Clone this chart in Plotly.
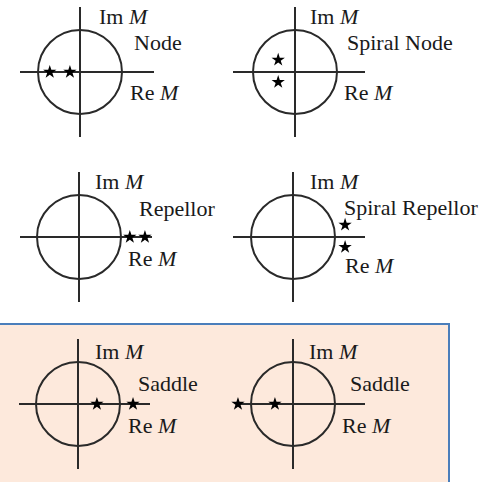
import plotly.graph_objects as go

# ---- data: eigenvalues (multipliers M) for each fixed-point type ----
panel_names = ["Node", "Spiral Node", "Repellor", "Spiral Repellor", "Saddle", "Saddle"]
re_values = [[-0.72, -0.24], [-0.40, -0.40], [1.21, 1.57], [1.24, 1.24], [0.45, 1.31], [-1.31, -0.43]]
im_values = [[0.0, 0.0], [0.29, -0.24], [0.0, 0.0], [0.29, -0.24], [0.0, 0.0], [0.0, 0.0]]
im_label = "Im <i>M</i>"
re_label = "Re <i>M</i>"

# ---- layout geometry (pixels) ----
W, H = 491, 482
S = 42  # pixels per unit of M
centers = [(80, 72), (295, 72), (79, 237), (293, 237), (78, 404), (293, 404)]
x_ranges = [(-1.42, 1.76), (-1.48, 1.67), (-1.40, 1.74), (-1.43, 1.71), (-1.40, 1.71), (-1.35, 1.71)]
y_half = 1.55
label_pos = [
    ((0.40, 1.31), (1.24, 0.71), (1.14, -0.50)),
    ((0.31, 1.31), (1.19, 0.71), (1.12, -0.50)),
    ((0.33, 1.31), (1.38, 0.69), (1.12, -0.50)),
    ((0.36, 1.31), (1.17, 0.71), (1.19, -0.67)),
    ((0.36, 1.24), (1.38, 0.50), (1.14, -0.50)),
    ((0.33, 1.24), (1.31, 0.50), (1.12, -0.50)),
]

LINE = "#2a2a2a"
FONT = dict(family="Liberation Serif, Times New Roman, serif", size=22, color="#1a1a1a")

fig = go.Figure()
layout = dict(width=W, height=H, autosize=False, margin=dict(l=0, r=0, t=0, b=0),
              paper_bgcolor="white", plot_bgcolor="rgba(0,0,0,0)", showlegend=False)
annotations = []
shapes = [dict(type="rect", xref="paper", yref="paper", x0=-0.02, x1=449 / W,
               y0=-0.02, y1=1 - 324 / H, fillcolor="#FDE9DC",
               line=dict(color="#4A7EBB", width=2), layer="below")]

for i in range(6):
    n = "" if i == 0 else str(i + 1)
    cx, cy = centers[i]
    x0, x1 = x_ranges[i]
    xdom = [(cx + x0 * S) / W, (cx + x1 * S) / W]
    ydom = [1 - (cy + y_half * S) / H, 1 - (cy - y_half * S) / H]
    ax = dict(showgrid=False, showticklabels=False, ticks="", showline=False,
              zeroline=True, zerolinecolor=LINE, zerolinewidth=2, fixedrange=True)
    layout["xaxis" + n] = dict(ax, domain=xdom, range=[x0, x1], anchor="y" + n)
    layout["yaxis" + n] = dict(ax, domain=ydom, range=[-y_half, y_half], anchor="x" + n)

    shapes.append(dict(type="circle", xref="x" + n, yref="y" + n, x0=-1, x1=1, y0=-1, y1=1,
                       line=dict(color=LINE, width=2), layer="above"))

    fig.add_trace(go.Scatter(x=re_values[i], y=im_values[i], mode="markers",
                             marker=dict(symbol="star", size=10, color="black"),
                             xaxis="x" + n, yaxis="y" + n, cliponaxis=False, hoverinfo="skip"))

    (imx, imy), (nx, ny), (rx, ry) = label_pos[i]
    for txt, (tx, ty) in [(im_label, (imx, imy)), (panel_names[i], (nx, ny)), (re_label, (rx, ry))]:
        annotations.append(dict(text=txt, x=tx, y=ty, xref="x" + n, yref="y" + n,
                                xanchor="left", yanchor="middle", showarrow=False, font=FONT))

layout["annotations"] = annotations
layout["shapes"] = shapes
fig.update_layout(**layout)
fig.write_html("out.html", config={"displayModeBar": False, "staticPlot": True},
               post_script="document.body.style.margin='0';document.body.style.overflow='hidden';")
